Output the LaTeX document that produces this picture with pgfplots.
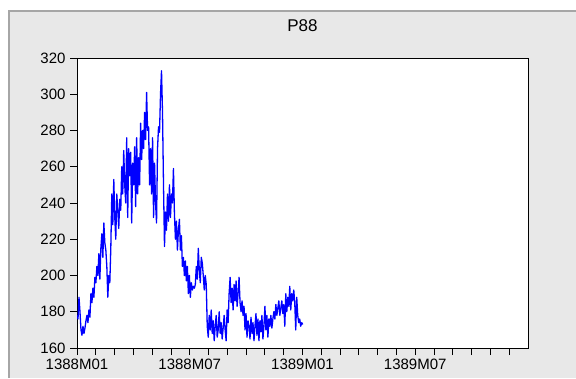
\documentclass[border=0pt]{standalone}
\usepackage{fontspec}
\setmainfont{Liberation Sans}
\usepackage{pgfplots}
\pgfplotsset{compat=1.18}
\usepackage{pgfplotstable}
\pgfplotstableread{
y
178
176
188
180
170
167
172
168
171
175
178
174
181
177
190
185
193
188
199
196
205
200
212
198
215
223
210
229
218
214
205
188
200
196
215
245
228
253
232
220
245
236
226
242
236
260
245
269
250
240
276
232
270
255
268
229
262
250
271
238
276
245
265
250
284
264
280
270
290
275
301
280
282
250
270
245
276
232
262
240
229
270
282
279
300
313
290
250
216
235
225
245
230
250
232
245
240
259
234
220
230
214
225
231
214
222
205
210
200
208
197
205
190
200
188
196
192
194
193
195
205
198
215
203
196
210
207
200
192
200
195
172
166
178
170
181
168
175
164
172
178
166
170
180
168
174
165
171
178
170
164
181
174
190
199
185
193
181
195
186
197
183
190
199
185
180
186
178
183
170
179
166
175
172
165
177
168
174
164
172
179
167
176
164
175
169
178
165
172
183
170
178
166
176
172
178
171
176
180
176
184
178
182
186
178
182
186
179
184
172
190
180
188
183
194
181
190
186
192
185
170
188
178
174
176
172
174
173
}\datatable
\begin{document}
\begin{tikzpicture}
\useasboundingbox (0,0) rectangle (576pt,378pt);
\fill[white] (0,0) rectangle (576pt,378pt);
\fill[gray!18] (8pt,0) rectangle (576pt,368pt);
\draw[gray!70, line width=2.5pt] (9pt,0) -- (9pt,367pt) -- (576pt,367pt);
\node[font=\fontsize{17}{19}\selectfont] at (302.5pt,352pt) {P88};
\begin{axis}[
  at={(77pt,30pt)}, anchor=south west,
  width=451pt, height=290pt, scale only axis,
  xmin=0, xmax=453.6, ymin=160, ymax=320,
  ytick={160,180,...,320},
  xtick={0,18.9,...,436},
  xticklabels={1388M01,,,,,,1388M07,,,,,,1389M01,,,,,,1389M07,,,,,},
  tick align=outside, major tick length=7pt, tick pos=left,
  axis background/.style={fill=white},
  axis line style={black, line width=0.9pt},
  tick style={black, line width=0.9pt},
  ticklabel style={font=\fontsize{15}{17}\selectfont},
  /pgf/number format/assume math mode=true,
  yticklabel style={xshift=-1pt},
]
\addplot[blue, line width=1.3pt, line join=round] table[x expr=\coordindex, y=y] {\datatable};
\end{axis}
\end{tikzpicture}
\end{document}
